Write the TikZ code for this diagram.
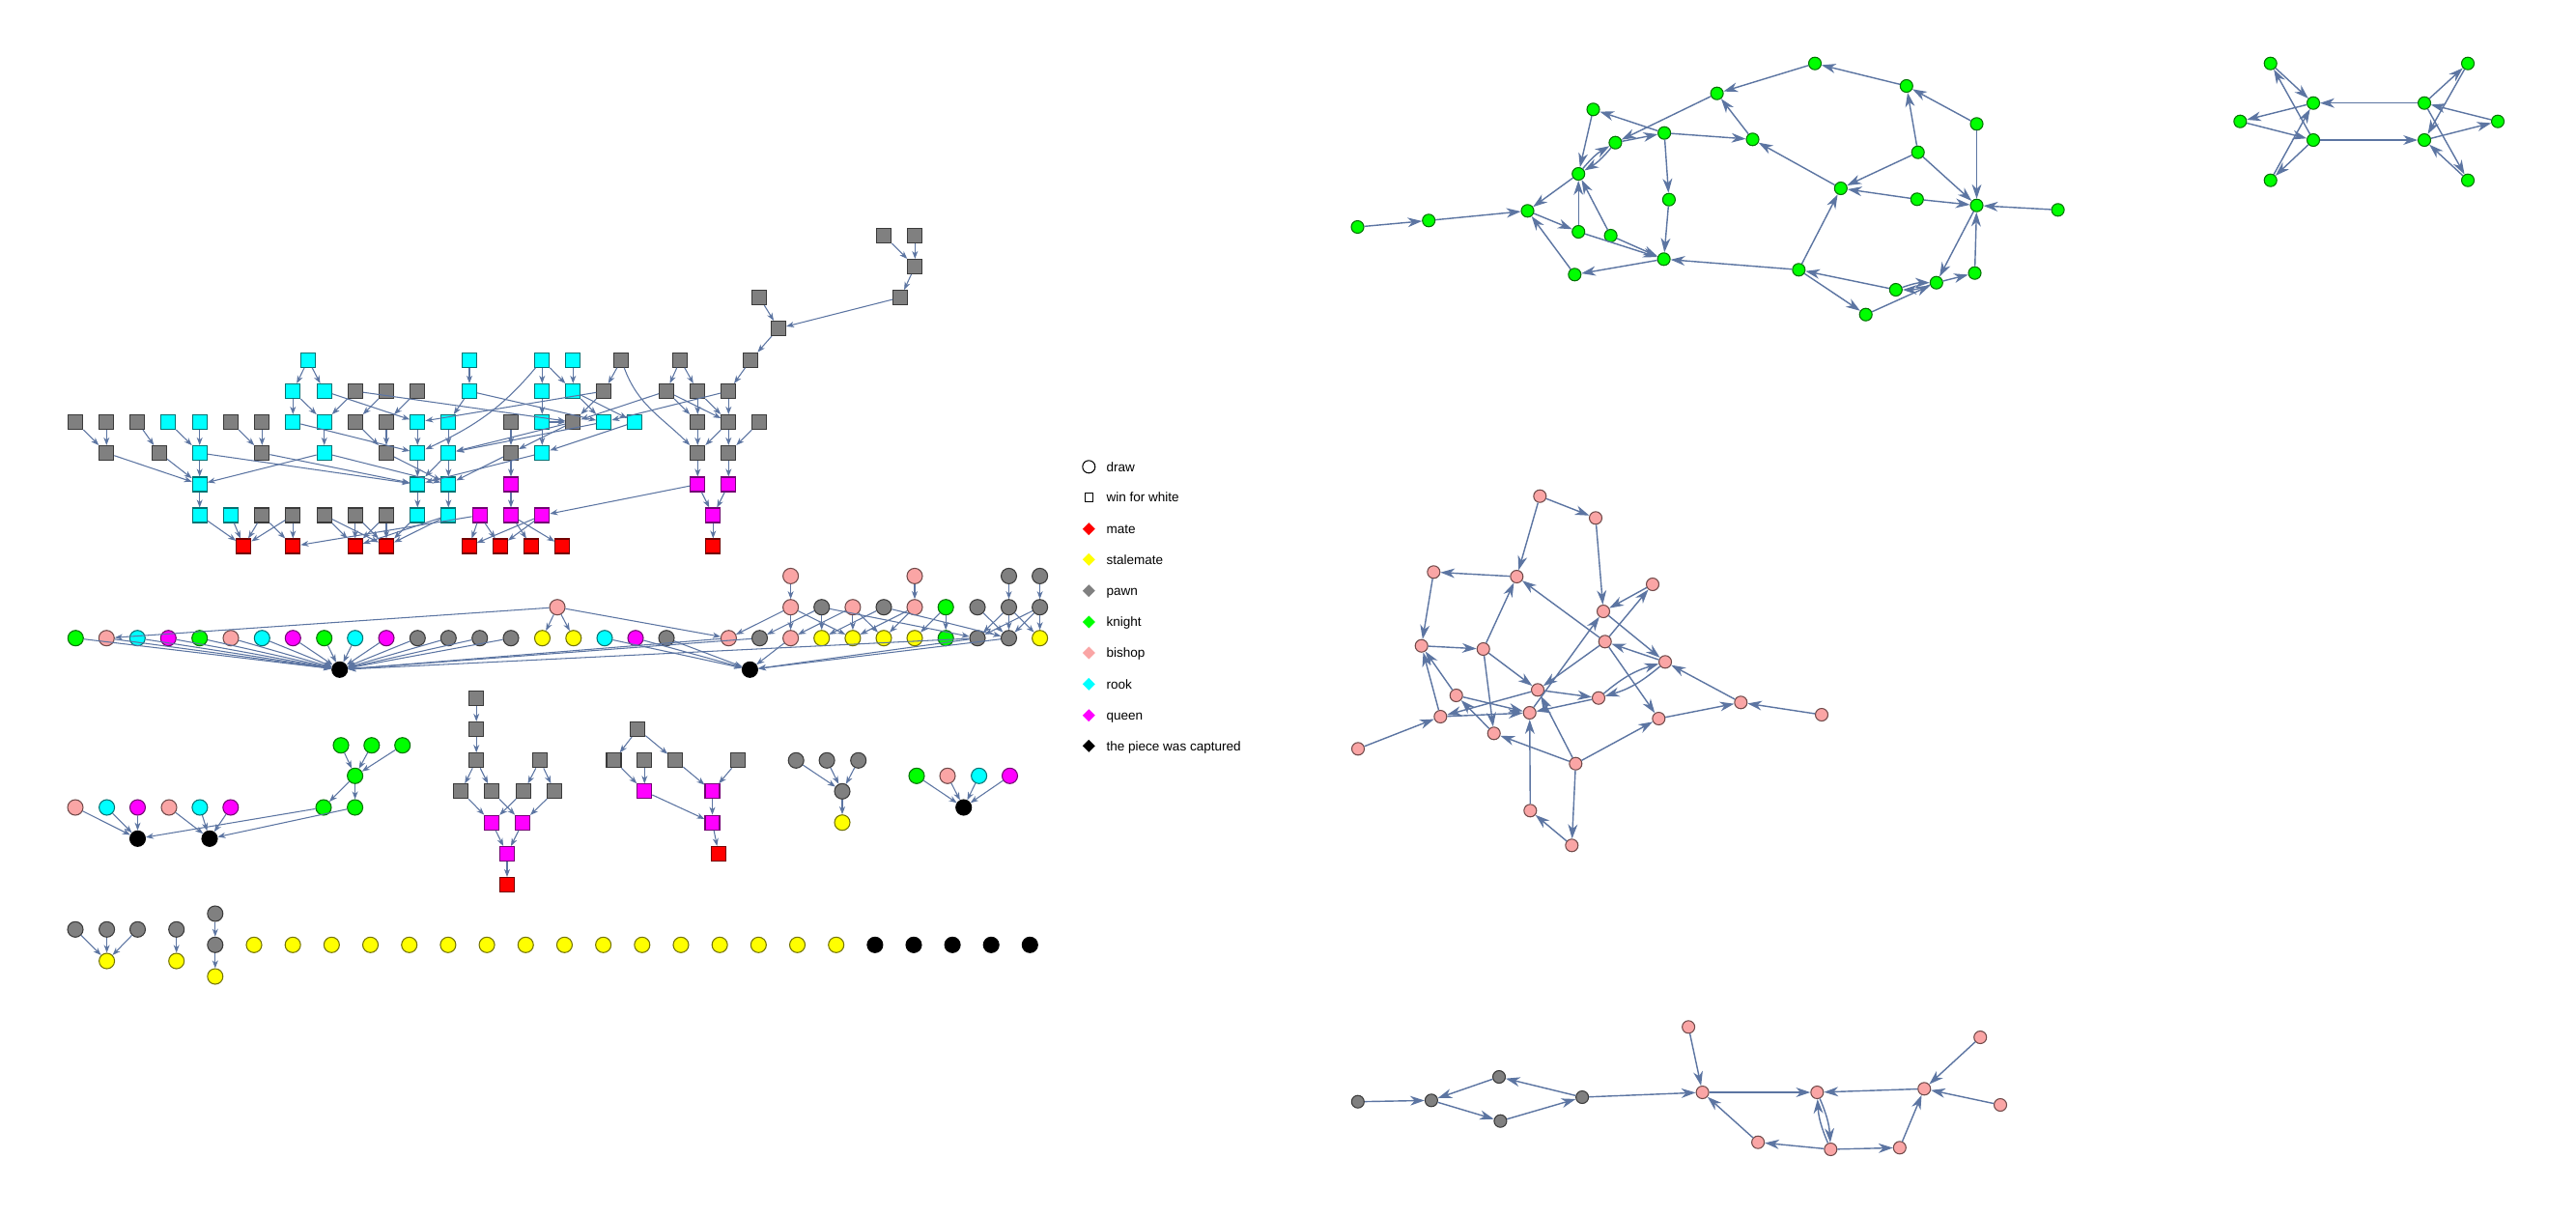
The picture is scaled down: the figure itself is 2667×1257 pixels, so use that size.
\documentclass[tikz,border=0pt]{standalone}
\usepackage{fontspec}
\newfontfamily\legfont{Liberation Sans}
\usetikzlibrary{arrows.meta,shapes.geometric}
\definecolor{gy}{RGB}{128,128,128}
\definecolor{cy}{RGB}{0,255,255}
\definecolor{mg}{RGB}{255,0,255}
\definecolor{rd}{RGB}{255,0,0}
\definecolor{yl}{RGB}{255,255,0}
\definecolor{gn}{RGB}{0,255,0}
\definecolor{pk}{RGB}{250,165,165}
\definecolor{bk}{RGB}{0,0,0}
\definecolor{edgec}{RGB}{92,117,162}
\tikzset{
 vsq/.style={rectangle,minimum size=0.15cm,inner sep=0pt,fill=#1,draw=#1!45!black,line width=0.3pt},
 vci/.style={circle,minimum size=0.16cm,inner sep=0pt,fill=#1,draw=#1!45!black,line width=0.3pt},
 vsm/.style={circle,minimum size=0.13cm,inner sep=0pt,fill=#1,draw=#1!45!black,line width=0.3pt},
 ed/.style={draw=edgec,line width=0.3pt,-{Stealth[length=2.3pt,width=1.7pt,inset=0.7pt]}},
 edb/.style={draw=edgec,line width=0.4pt,-{Stealth[length=4.2pt,width=2.8pt,inset=1.3pt]}},
 legmark/.style={diamond,aspect=1,minimum width=0.135cm,minimum height=0.135cm,inner sep=0pt,fill=#1},
 legtext/.style={anchor=west,inner sep=0pt,text height=2.76pt,text depth=0pt,font=\legfont\fontsize{3.85}{4.5}\selectfont},
}
\begin{document}
\begin{tikzpicture}[x=0.01cm,y=-0.01cm]
\fill[white] (0,0) rectangle (2667,1257);
\useasboundingbox (0,0) rectangle (2667,1257);

% ---------------- upper tree (win for white) ----------------
\foreach \n/\x/\y in {A0a/915.3/244, A0b/947.3/244, A1a/947.3/276, A2a/786.3/308, A2b/932.3/308, A3a/806/340}
  \node[vsq=gy] (\n) at (\x,\y) {};
\foreach \n/\x/\c in {r4a/319/cy, r4b/486/cy, r4c/561.3/cy, r4d/593.3/cy, r4e/643.3/gy, r4f/704.3/gy, r4g/777.3/gy}
  \node[vsq=\c] (\n) at (\x,372.7) {};
\foreach \n/\x/\c in {r5a/303.3/cy, r5b/335.7/cy, r5c/367.7/gy, r5d/400/gy, r5e/432.3/gy, r5f/486/cy, r5g/561.3/cy, r5h/593.3/cy, r5i/625.3/gy, r5j/690/gy, r5k/722.3/gy, r5l/754.3/gy}
  \node[vsq=\c] (\n) at (\x,405) {};
\foreach \n/\x/\c in {r6a/78.3/gy, r6b/110.3/gy, r6c/142.3/gy, r6d/174.3/cy, r6e/206.7/cy, r6f/239/gy, r6g/271.3/gy, r6h/303.3/cy, r6i/335.7/cy, r6j/367.7/gy, r6k/400/gy, r6l/432.3/cy, r6m/464.3/cy, r6n/529/gy, r6o/561.3/cy, r6p/593.3/gy, r6q/625.3/cy, r6r/657.3/cy, r6s/722.3/gy, r6t/754.3/gy, r6u/786.3/gy}
  \node[vsq=\c] (\n) at (\x,437) {};
\foreach \n/\x/\c in {r7a/110.3/gy, r7b/165/gy, r7c/206.7/cy, r7d/271.3/gy, r7e/335.7/cy, r7f/400/gy, r7g/432.3/cy, r7h/464.3/cy, r7i/529/gy, r7j/561.3/cy, r7k/722.3/gy, r7l/754.3/gy}
  \node[vsq=\c] (\n) at (\x,469) {};
\foreach \n/\x/\c in {r8a/206.7/cy, r8b/432.3/cy, r8c/464.3/cy, r8d/529/mg, r8e/722.3/mg, r8f/754.3/mg}
  \node[vsq=\c] (\n) at (\x,501.5) {};
\foreach \n/\x/\c in {r9a/206.7/cy, r9b/239/cy, r9c/271.3/gy, r9d/303.3/gy, r9e/335.7/gy, r9f/367.7/gy, r9g/400/gy, r9h/432.3/cy, r9i/464.3/cy, r9j/496.7/mg, r9k/529/mg, r9l/561.3/mg, r9m/738.3/mg}
  \node[vsq=\c] (\n) at (\x,533.5) {};
\foreach \n/\x in {r10a/252.3, r10b/303.3, r10c/367.7, r10d/400, r10e/485.7, r10f/518, r10g/550.3, r10h/582.3, r10i/738.3}
  \node[vsq=rd] (\n) at (\x,565.5) {};

\foreach \a/\b in {A0a/A1a, A0b/A1a, A1a/A2b, A2b/A3a, A2a/A3a, A3a/r4g, r4g/r5l,
  r4a/r5a, r4a/r5b, r4b/r5f, r4c/r5g, r4c/r5h, r4d/r5h, r4e/r5i, r4f/r5j, r4f/r5k,
  r5a/r6h, r5a/r6i, r5b/r6l, r5c/r6i, r5c/r6p, r5d/r6j, r5e/r6k, r5f/r6m, r5f/r6q, r5g/r6o,
  r5h/r6q, r5h/r6r, r5i/r6p, r5i/r6l, r5j/r6s, r5j/r6t, r5j/r6p, r5k/r6s, r5k/r6t, r5l/r6t, r5l/r6q,
  r6a/r7a, r6b/r7a, r6c/r7b, r6d/r7c, r6e/r7c, r6f/r7d, r6g/r7d, r6h/r7g, r6i/r7e, r6j/r7f, r6k/r7f,
  r6l/r7g, r6m/r7h, r6n/r7i, r6o/r6p, r6o/r7j, r6p/r7i, r6p/r7h, r6q/r7h, r6r/r7j, r6s/r7k, r6t/r7k, r6t/r7l, r6u/r7l,
  r7a/r8a, r7b/r8a, r7c/r8a, r7c/r8b, r7d/r8b, r7e/r8a, r7e/r8c, r7f/r8c, r7g/r8b, r7h/r8c, r7h/r8b,
  r7i/r8d, r7i/r8c, r7j/r8b, r7k/r8e, r7l/r8f,
  r8a/r9a, r8b/r9h, r8c/r9i, r8d/r9k, r8e/r9l, r8e/r9m, r8f/r9m,
  r9a/r10a, r9b/r10a, r9c/r10a, r9c/r10b, r9d/r10a, r9d/r10b, r9e/r10c, r9e/r10d, r9f/r10c, r9f/r10d,
  r9g/r10d, r9g/r10c, r9h/r10d, r9i/r10d, r9i/r10c, r9j/r10b, r9j/r10e, r9j/r10f, r9k/r10g, r9k/r10h,
  r9l/r10f, r9l/r10e, r9m/r10i}
  \draw[ed] (\a) -- (\b);
\draw[ed] (r4c) to[out=-130,in=25] (r7g);
\draw[ed] (r4e) to[out=-70,in=135] (r7k);

% ---------------- middle row (draws) ----------------
\foreach \n/\x/\c in {ma1/818.6/pk, ma2/947/pk, ma3/1044.5/gy, ma4/1076.6/gy}
  \node[vci=\c] (\n) at (\x,596.4) {};
\foreach \n/\x/\c in {mb0/577/pk, mb1/818.6/pk, mb2/850.7/gy, mb3/882.9/pk, mb4/915/gy, mb5/947/pk, mb6/979.2/gn, mb7/1012/gy, mb8/1044.5/gy, mb9/1076.6/gy}
  \node[vci=\c] (\n) at (\x,628.7) {};
\foreach \n/\x/\c in {c1/78.3/gn, c2/110.3/pk, c3/142.3/cy, c4/174.3/mg, c5/206.7/gn, c6/239/pk, c7/271.3/cy, c8/303.3/mg,
  c9/335.7/gn, c10/367.7/cy, c11/400/mg, c12/432.3/gy, c13/464.3/gy, c14/496.7/gy, c15/529/gy, c16/561.5/yl,
  c17/593.8/yl, c18/626/cy, c19/658/mg, c20/690/gy, c21/754.4/pk, c22/786.5/gy, c23/818.6/pk, c24/850.7/yl,
  c25/882.9/yl, c26/915/yl, c27/947/yl, c28/979.2/gn, c29/1012/gy, c30/1044.5/gy, c31/1076.6/yl}
  \node[vci=\c] (\n) at (\x,660.7) {};
\node[vci=bk] (bk1) at (351.7,693.3) {};
\node[vci=bk] (bk2) at (776.4,693.3) {};
\foreach \a in {c1,c2,c3,c4,c5,c6,c7,c8,c9,c10,c11,c12,c13,c14,c15,c21,c22,c29}
  \draw[ed] (\a) -- (bk1);
\foreach \a in {c18,c19,c20,c23,c29,c30}
  \draw[ed] (\a) -- (bk2);
\foreach \a/\b in {mb0/c16, mb0/c17, mb0/c21, mb0/c2, ma1/mb1, ma2/mb5, ma3/mb8, ma4/mb9,
  mb1/c21, mb1/c23, mb1/c25, mb2/c22, mb2/c24, mb2/c29, mb3/c25, mb3/c26, mb3/c23, mb4/c24, mb4/c30,
  mb5/c26, mb5/c25, mb6/c28, mb6/c27, mb7/c30, mb8/c30, mb8/c29, mb8/c31, mb9/c31, mb9/c30, mb9/c29}
  \draw[ed] (\a) -- (\b);

% ---------------- lower left groups ----------------
\foreach \n/\x/\c in {g1/78/pk, g2/110.6/cy, g3/142.5/mg, g4/175/pk, g5/206.9/cy, g6/238.8/mg}
  \node[vci=\c] (\n) at (\x,836) {};
\node[vci=bk] (gk1) at (142.5,868.3) {};
\node[vci=bk] (gk2) at (217,868.3) {};
\foreach \n/\x in {h1/353, h2/384.8, h3/416.7}
  \node[vci=gn] (\n) at (\x,771.7) {};
\node[vci=gn] (h4) at (367.6,803.3) {};
\node[vci=gn] (h5) at (335,836) {};
\node[vci=gn] (h6) at (367.6,836) {};
\foreach \a/\b in {g1/gk1, g2/gk1, g3/gk1, g4/gk2, g5/gk2, g6/gk2, h1/h4, h2/h4, h3/h4, h4/h5, h4/h6, h5/gk1, h6/gk2}
  \draw[ed] (\a) -- (\b);

\foreach \n/\x/\y/\c in {s1/493.2/723/gy, s2/493.2/755/gy, s3/493.2/787.3/gy, s4/559/787.3/gy,
  s5/477.3/819.3/gy, s6/509.2/819.3/gy, s7/542.3/819.3/gy, s8/574.2/819.3/gy,
  s9/509.2/851.7/mg, s10/541/851.7/mg, s11/525/884/mg, s12/525/916/rd,
  u1/660.3/755/gy, u2/635.5/787.3/gy, u3/667.3/787.3/gy, u4/699.2/787.3/gy, u5/764.3/787.3/gy,
  u6/667.3/819.3/mg, u7/737.5/819.3/mg, u8/737.5/851.7/mg, u9/744/884/rd}
  \node[vsq=\c] (\n) at (\x,\y) {};
\foreach \a/\b in {s1/s2, s2/s3, s3/s5, s3/s6, s4/s7, s4/s8, s5/s9, s6/s10, s7/s9, s8/s10, s9/s11, s10/s11, s11/s12,
  u1/u2, u1/u4, u2/u6, u3/u6, u4/u7, u5/u7, u6/u8, u7/u8, u8/u9}
  \draw[ed] (\a) -- (\b);

\foreach \n/\x/\y/\c in {w1/824.2/787.3/gy, w2/856.1/787.3/gy, w3/888.7/787.3/gy, w4/872/819.3/gy, w5/872/851.7/yl,
  v1/949/803.3/gn, v2/981/803.3/pk, v3/1013.6/803.3/cy, v4/1045.5/803.3/mg, v5/997.7/836/bk}
  \node[vci=\c] (\n) at (\x,\y) {};
\foreach \a/\b in {w1/w4, w2/w4, w3/w4, w4/w5, v1/v5, v2/v5, v3/v5, v4/v5}
  \draw[ed] (\a) -- (\b);

% bottom row
\foreach \n/\x/\y/\c in {b1/78/962.3/gy, b2/110.6/962.3/gy, b3/142.5/962.3/gy, b4/110.6/995/yl,
  b5/182.7/962.3/gy, b6/182.7/995/yl, b7/222.8/946/gy, b8/222.8/978.3/gy, b9/222.8/1011/yl}
  \node[vci=\c] (\n) at (\x,\y) {};
\foreach \a/\b in {b1/b4, b2/b4, b3/b4, b5/b6, b7/b8, b8/b9}
  \draw[ed] (\a) -- (\b);
\foreach \i in {0,...,15}
  \node[vci=yl] (y\i) at (263+40.18*\i,978.3) {};
\foreach \i in {0,...,4}
  \node[vci=bk] (z\i) at (905.9+40.1*\i,978.3) {};

% ---------------- legend ----------------
\node[circle,draw=black,line width=0.3pt,minimum size=0.13cm,inner sep=0pt] (L1) at (1127.3,483.3) {};
\node[rectangle,draw=black,line width=0.3pt,minimum size=0.085cm,inner sep=0pt] (L2) at (1127.3,515) {};
\foreach \n/\y/\c in {L3/547.7/rd, L4/579.3/yl, L5/611.7/gy, L6/644/gn, L7/676/pk, L8/708.3/cy, L9/740.7/mg, L10/772.3/bk}
  \node[legmark=\c] (\n) at (1127.3,\y) {};
\foreach \n/\y/\t in {T1/483.3/draw, T2/515/win for white, T3/547.7/mate, T4/579.3/stalemate, T5/611.7/pawn,
  T6/644/knight, T7/676/bishop, T8/708.3/rook, T9/740.7/queen, T10/772.3/the piece was captured}
  \node[legtext] (\n) at (1144.8,\y) {\t};

% ---------------- green graph ----------------
\foreach \n/\x/\y in {G1/1405.5/235, G2/1479.2/228.3, G3/1581.5/218.3, G4/1634.2/180, G5/1672.4/147.7,
  G6/1649.5/113.3, G7/1723.1/137.7, G8/1777.6/96.7, G9/1879/65.7, G10/1973.8/89, G11/2046.5/128.3,
  G12/1985.7/157.7, G13/1814.5/144.3, G14/1727.9/206.7, G15/1634.2/240, G16/1667.6/244, G17/1722.6/268.3,
  G18/1630.3/284.3, G19/1862.3/279.3, G20/1905.8/195, G21/1984.8/206.3, G22/2046.5/212.7, G23/2130.6/217.3,
  G24/1931.7/325.7, G25/1962.8/300, G26/2004.8/292.7, G27/2044.5/282.7}
  \node[vsm=gn] (\n) at (\x,\y) {};
\foreach \a/\b in {G1/G2, G2/G3, G4/G3, G3/G15, G18/G3, G15/G4, G16/G4, G6/G4, G8/G5, G5/G7, G7/G6, G7/G13,
  G7/G14, G9/G8, G10/G9, G11/G10, G12/G10, G13/G8, G20/G13, G12/G20, G12/G22, G11/G22, G21/G20, G21/G22,
  G23/G22, G14/G17, G15/G17, G16/G17, G17/G18, G19/G17, G19/G20, G19/G24, G25/G19, G24/G26, G26/G27,
  G27/G22, G22/G26}
  \draw[edb] (\a) -- (\b);
\draw[edb] (G4) to[bend left=10] (G5);
\draw[edb] (G5) to[bend left=10] (G4);
\draw[edb] (G25) to[bend left=10] (G26);
\draw[edb] (G26) to[bend left=10] (G25);

% small green graph
\foreach \n/\x/\y in {Ka/2350.7/65.7, Kb/2395/106.7, Kc/2319.3/125.7, Kd/2395/145, Ke/2350.7/186.7,
  Kf/2510/106.7, Kg/2510/145, Kh/2555/65.7, Ki/2586/125.7, Kj/2555/186.7}
  \node[vsm=gn] (\n) at (\x,\y) {};
\foreach \a/\b in {Ka/Kb, Kd/Ka, Kb/Kc, Kc/Kd, Ke/Kb, Kd/Ke, Kf/Kb, Kd/Kg, Kf/Kh, Kh/Kg, Ki/Kf, Kg/Ki, Kf/Kj, Kj/Kg}
  \draw[edb] (\a) -- (\b);

% ---------------- pink graph ----------------
\foreach \n/\x/\y in {P1/1594.3/513.7, P2/1652/536.3, P3/1570.3/597, P4/1484.3/592.3, P5/1711/605,
  P6/1660/633, P7/1471.7/668.7, P8/1535.7/672, P9/1661.7/664.3, P10/1724/685.3, P11/1592/714.3,
  P12/1507.7/720, P13/1655/722.7, P14/1491.3/742, P15/1583.7/738, P16/1546.7/759.3, P17/1717.3/744,
  P18/1802.3/727.3, P19/1886/740, P20/1406/775.3, P21/1631.3/790.7, P22/1584.3/839.3, P23/1627.3/875.3}
  \node[vsm=pk] (\n) at (\x,\y) {};
\foreach \a/\b in {P1/P2, P1/P3, P2/P6, P3/P4, P4/P7, P5/P6, P9/P5, P7/P8, P8/P3, P8/P11, P8/P16, P9/P3,
  P6/P10, P10/P9, P9/P11, P9/P17, P11/P13, P11/P14, P13/P15, P15/P6, P12/P7, P12/P15, P14/P7, P14/P15,
  P16/P12, P18/P10, P19/P18, P17/P18, P20/P14, P21/P16, P21/P17, P21/P11, P21/P23, P22/P15, P23/P22}
  \draw[edb] (\a) -- (\b);
\draw[edb] (P10) to[bend left=12] (P13);
\draw[edb] (P13) to[bend left=12] (P10);

% ---------------- bottom graph ----------------
\foreach \n/\x/\y/\c in {Q1/1405.8/1140.7/gy, Q2/1481.9/1139.3/gy, Q3/1552/1115/gy, Q4/1553.4/1160.7/gy,
  Q5/1638.1/1136/gy, Q6/1748.1/1063.3/pk, Q7/1762.6/1131/pk, Q8/1881.3/1131/pk, Q9/1992.2/1127.3/pk,
  Q10/2050.2/1074/pk, Q11/2071/1144/pk, Q12/1820.1/1182.7/pk, Q13/1895.3/1190/pk, Q14/1966.8/1188.3/pk}
  \node[vsm=\c] (\n) at (\x,\y) {};
\foreach \a/\b in {Q1/Q2, Q3/Q2, Q2/Q4, Q4/Q5, Q5/Q3, Q5/Q7, Q6/Q7, Q12/Q7, Q7/Q8, Q9/Q8, Q13/Q12,
  Q13/Q14, Q14/Q9, Q10/Q9, Q11/Q9}
  \draw[edb] (\a) -- (\b);
\draw[edb] (Q8) to[bend left=10] (Q13);
\draw[edb] (Q13) to[bend left=10] (Q8);
\end{tikzpicture}
\end{document}
